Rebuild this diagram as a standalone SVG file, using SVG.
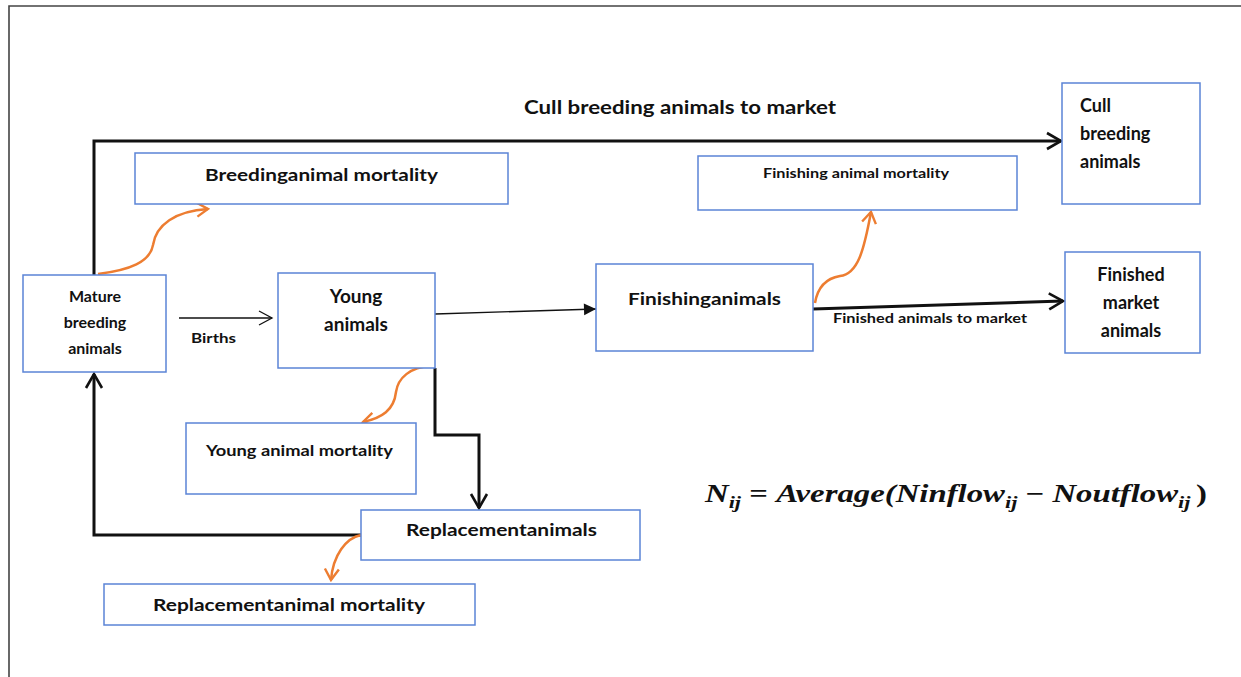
<svg xmlns="http://www.w3.org/2000/svg" width="1241" height="677" viewBox="0 0 1241 677">
<defs>
<style>
.box{fill:#fff;stroke:#5b84d6;stroke-width:1.5}
.t{font-family:Lato,"Open Sans","Liberation Sans",sans-serif;font-weight:bold;fill:#111}
.k{fill:none;stroke:#111;stroke-width:3}
.thin{fill:none;stroke:#111;stroke-width:1.3}
.o{fill:none;stroke:#ED7D31;stroke-width:2.5}
</style>
<marker id="chevK" markerUnits="userSpaceOnUse" markerWidth="22" markerHeight="22" viewBox="0 0 22 22" refX="19" refY="11" orient="auto">
<path d="M5,3 L19,11 L5,19" fill="none" stroke="#111" stroke-width="2.6"/>
</marker>
<marker id="chevT" markerUnits="userSpaceOnUse" markerWidth="20" markerHeight="20" viewBox="0 0 20 20" refX="18" refY="10" orient="auto">
<path d="M5,3 L18,10 L5,17" fill="none" stroke="#111" stroke-width="1.3"/>
</marker>
<marker id="tri" markerUnits="userSpaceOnUse" markerWidth="16" markerHeight="16" viewBox="0 0 16 16" refX="14" refY="8" orient="auto">
<path d="M2,2 L14,8 L2,14 Z" fill="#111"/>
</marker>
<marker id="chevO" markerUnits="userSpaceOnUse" markerWidth="18" markerHeight="18" viewBox="0 0 18 18" refX="16" refY="9" orient="auto">
<path d="M5,2 L16,9 L5,16" fill="none" stroke="#ED7D31" stroke-width="2.4"/>
</marker>
</defs>
<rect width="1241" height="677" fill="#fff"/>
<path d="M9,677 L9,6 L1241,6" fill="none" stroke="#444" stroke-width="1.6"/>

<g id="connectors">
<path class="k" d="M94,275 L94,141 L1061,141" marker-end="url(#chevK)"/>
<path class="thin" d="M179,318 L272,318" marker-end="url(#chevT)"/>
<path class="thin" d="M435,314 L596,309" marker-end="url(#tri)"/>
<path class="k" d="M813,309 L1063,301" marker-end="url(#chevK)"/>
<path class="k" d="M435,368 L435,435 L479,435 L479,508" marker-end="url(#chevK)"/>
<path class="k" d="M361,535 L94,535 L94,374" marker-end="url(#chevK)"/>
<path class="o" d="M98,274 C130,270 150,262 153,245 C156,225 175,211 208,209" marker-end="url(#chevO)"/>
<path class="o" d="M431,366 C410,367 398,378 396,392 C394,410 382,418 363,422" marker-end="url(#chevO)"/>
<path class="o" d="M815,303 C818,285 828,278 840,276 C858,274 864,250 871,212" marker-end="url(#chevO)"/>
<path class="o" d="M361,535 C346,538 333,555 331,580" marker-end="url(#chevO)"/>
<text class="t" x="680" y="114" font-size="18" text-anchor="middle" textLength="312" lengthAdjust="spacingAndGlyphs">Cull breeding animals to market</text>
<text class="t" x="191" y="343" font-size="14" textLength="45" lengthAdjust="spacingAndGlyphs">Births</text>
<text class="t" x="833" y="323" font-size="14" textLength="194" lengthAdjust="spacingAndGlyphs">Finished animals to market</text>
</g>

<g id="mature">
<rect class="box" x="23" y="275" width="143" height="97"/>
<text class="t" font-size="16" text-anchor="middle"><tspan x="95" y="302">Mature</tspan><tspan x="95" y="328">breeding</tspan><tspan x="95" y="354">animals</tspan></text>
</g>
<g id="young">
<rect class="box" x="278" y="273" width="157" height="95"/>
<text class="t" font-size="19" text-anchor="middle"><tspan x="356" y="303">Young</tspan><tspan x="356" y="331">animals</tspan></text>
</g>
<g id="breeding-mortality">
<rect class="box" x="135" y="153" width="373" height="51"/>
<text class="t" x="205" y="181" font-size="17" textLength="233" lengthAdjust="spacingAndGlyphs">Breedinganimal mortality</text>
</g>
<g id="finishing-mortality">
<rect class="box" x="698" y="156" width="319" height="54"/>
<text class="t" x="763" y="178" font-size="14" textLength="186" lengthAdjust="spacingAndGlyphs">Finishing animal mortality</text>
</g>
<g id="cull">
<rect class="box" x="1062" y="83" width="138" height="121"/>
<text class="t" font-size="18"><tspan x="1080" y="112">Cull</tspan><tspan x="1080" y="140">breeding</tspan><tspan x="1080" y="168">animals</tspan></text>
</g>
<g id="finished-market">
<rect class="box" x="1065" y="252" width="135" height="101"/>
<text class="t" font-size="18" text-anchor="middle"><tspan x="1131" y="281">Finished</tspan><tspan x="1131" y="309">market</tspan><tspan x="1131" y="337">animals</tspan></text>
</g>
<g id="finishing">
<rect class="box" x="596" y="264" width="217" height="87"/>
<text class="t" x="628" y="305" font-size="17" textLength="153" lengthAdjust="spacingAndGlyphs">Finishinganimals</text>
</g>
<g id="young-mortality">
<rect class="box" x="186" y="423" width="230" height="71"/>
<text class="t" x="206" y="456" font-size="15" textLength="187" lengthAdjust="spacingAndGlyphs">Young animal mortality</text>
</g>
<g id="replacement">
<rect class="box" x="361" y="510" width="279" height="50"/>
<text class="t" x="406" y="536" font-size="17" textLength="191" lengthAdjust="spacingAndGlyphs">Replacementanimals</text>
</g>
<g id="replacement-mortality">
<rect class="box" x="104" y="584" width="371" height="41"/>
<text class="t" x="153" y="611" font-size="17" textLength="272" lengthAdjust="spacingAndGlyphs">Replacementanimal mortality</text>
</g>

<g id="formula">
<text x="705" y="502" font-family="'Liberation Serif','DejaVu Serif',serif" font-weight="bold" font-style="italic" font-size="25" fill="#111" textLength="502" lengthAdjust="spacingAndGlyphs">N<tspan dy="6" font-size="17">ij</tspan><tspan dy="-6" font-style="normal"> = </tspan>Average(Ninflow<tspan dy="6" font-size="17">ij</tspan><tspan dy="-6" font-style="normal"> − </tspan>Noutflow<tspan dy="6" font-size="17">ij </tspan><tspan dy="-6" font-style="normal">)</tspan></text>
</g>
</svg>
